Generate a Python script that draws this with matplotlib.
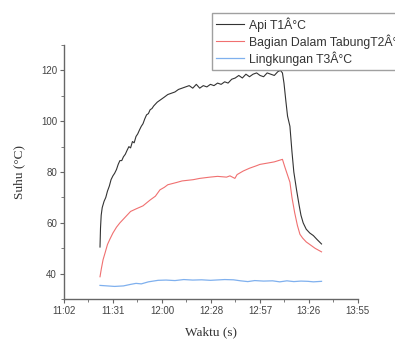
import matplotlib.pyplot as plt
from matplotlib.ticker import MultipleLocator

# waktu dalam menit sejak 11:02
menit_api = [21.2, 21.5, 21.9, 22.5, 23.6, 24.6, 25.6, 26.7, 27.7, 28.8, 29.8, 30.9,
             31.9, 32.9, 34.0, 35.0, 36.1, 37.1, 38.2, 39.2, 40.3, 41.3, 42.4, 43.4,
             44.4, 45.5, 46.5, 47.6, 48.6, 49.7, 50.7, 51.8, 52.8, 54.9, 57.0, 59.1,
             61.1, 63.2, 65.3, 67.4, 69.5, 71.6, 73.7, 75.8, 77.9, 79.9, 82.0, 84.1,
             86.2, 88.3, 90.4, 92.5, 94.6, 96.6, 98.7, 100.8, 102.9, 105.0, 107.1,
             109.2, 111.3, 113.4, 115.4, 117.5, 119.6, 121.7, 123.8, 125.9, 127.4,
             128.6, 129.5, 130.6, 131.6, 133.0, 134.2, 135.3, 136.9, 138.4, 139.5,
             140.8, 142.6, 144.7, 146.8, 148.9, 151.6]
suhu_api = [50.5, 58.0, 63.0, 66.0, 68.5, 70.0, 72.5, 74.5, 77.0, 78.5, 79.5, 81.0,
            83.0, 84.5, 84.5, 86.0, 87.0, 88.5, 90.0, 89.5, 92.0, 91.5, 94.0, 95.0,
            96.5, 98.0, 99.0, 101.0, 102.5, 103.0, 104.5, 105.0, 106.0, 107.5, 108.5,
            109.5, 110.5, 111.0, 111.5, 112.5, 113.0, 113.5, 114.0, 113.0, 114.5,
            113.0, 114.0, 113.5, 114.5, 114.0, 115.0, 114.5, 115.5, 115.0, 116.5,
            117.0, 118.0, 117.0, 118.5, 117.5, 118.5, 119.0, 118.0, 117.5, 119.0,
            118.5, 118.0, 119.5, 120.0, 119.0, 115.0, 108.0, 102.0, 98.0, 88.0, 80.0,
            73.0, 67.0, 63.0, 60.0, 57.5, 56.0, 55.0, 53.5, 51.7]

menit_tabung = [21.2, 22.0, 23.0, 24.1, 25.6, 27.1, 28.8, 30.9, 32.9, 35.0, 37.1, 39.2,
                42.4, 46.5, 50.7, 53.8, 56.5, 59.1, 61.1, 66.3, 69.5, 76.1, 79.9, 85.9,
                90.4, 95.7, 97.7, 100.6, 101.9, 105.5, 109.2, 113.4, 115.3, 119.6,
                123.8, 128.6, 130.0, 133.0, 134.2, 135.8, 137.4, 138.9, 140.5, 142.6,
                144.7, 147.8, 151.6]
suhu_tabung = [38.8, 42.0, 45.5, 48.0, 51.5, 53.7, 56.0, 58.3, 60.0, 61.5, 63.0, 64.5,
               65.5, 66.7, 69.0, 70.5, 73.0, 74.0, 75.0, 75.9, 76.5, 77.0, 77.5, 78.0,
               78.3, 78.0, 78.5, 77.5, 79.0, 80.4, 81.5, 82.5, 83.0, 83.5, 84.0, 85.0,
               82.0, 76.0, 70.0, 64.0, 59.0, 55.5, 54.0, 52.5, 51.5, 50.0, 48.6]

menit_lingkungan = [21.2, 29.8, 35.0, 39.2, 42.4, 45.5, 49.7, 55.4, 60.1, 65.3, 70.5,
                    75.8, 81.0, 86.2, 94.6, 99.8, 104.0, 108.2, 112.3, 117.5, 122.8,
                    127.0, 131.2, 135.3, 139.5, 143.7, 146.8, 151.6]
suhu_lingkungan = [35.4, 35.0, 35.2, 35.8, 36.2, 36.0, 36.8, 37.4, 37.5, 37.3, 37.7,
                   37.5, 37.6, 37.4, 37.7, 37.6, 37.2, 36.9, 37.3, 37.1, 37.2, 36.8,
                   37.2, 36.9, 37.1, 37.0, 36.8, 37.0]

label_waktu = ["11:02", "11:31", "12:00", "12:28", "12:57", "13:26", "13:55"]
label_seri = ["Api T1Â°C", "Bagian Dalam TabungT2Â°C", "Lingkungan T3Â°C"]

plt.rcParams['font.family'] = ['Liberation Sans', 'DejaVu Sans']

fig = plt.figure(figsize=(3.95, 3.54), dpi=100)
ax = fig.add_axes([0.162, 0.155, 0.744, 0.718])

ax.plot(menit_api, suhu_api, color='#333333', lw=0.8, label=label_seri[0])
ax.plot(menit_tabung, suhu_tabung, color='#f07070', lw=0.8, label=label_seri[1])
ax.plot(menit_lingkungan, suhu_lingkungan, color='#7fb0ee', lw=0.9, label=label_seri[2])

langkah = 173 / 6
ax.set_xlim(0, 173)
ax.set_ylim(30, 130)
ax.set_xticks([i * langkah for i in range(7)])
ax.set_xticklabels(label_waktu)
ax.xaxis.set_minor_locator(MultipleLocator(langkah / 2))
ax.set_yticks([40, 60, 80, 100, 120])
ax.yaxis.set_minor_locator(MultipleLocator(10))

for s in ['top', 'right']:
    ax.spines[s].set_visible(False)
for s in ['left', 'bottom']:
    ax.spines[s].set_color('#666666')
    ax.spines[s].set_linewidth(1.0)
ax.tick_params(which='major', length=3, width=0.8, color='#666666',
               labelsize=7, labelcolor='#444444', pad=2)
ax.tick_params(which='minor', length=2, width=0.6, color='#666666')

ax.set_xlabel("Waktu (s)", family='Liberation Serif', fontsize=9.5,
              color='#333333', labelpad=7)
ax.set_ylabel("Suhu (°C)", family='Liberation Serif', fontsize=9.5,
              color='#333333', labelpad=11)

fig.legend(loc='upper left', bbox_to_anchor=(212 / 395, 1 - 13 / 354),
           borderaxespad=0, fontsize=8.8, frameon=True, fancybox=False,
           edgecolor='#888888', handlelength=2.3, handletextpad=0.4,
           labelspacing=0.2, borderpad=0.35, labelcolor='#333333')

fig.savefig("out.png", dpi=100)
